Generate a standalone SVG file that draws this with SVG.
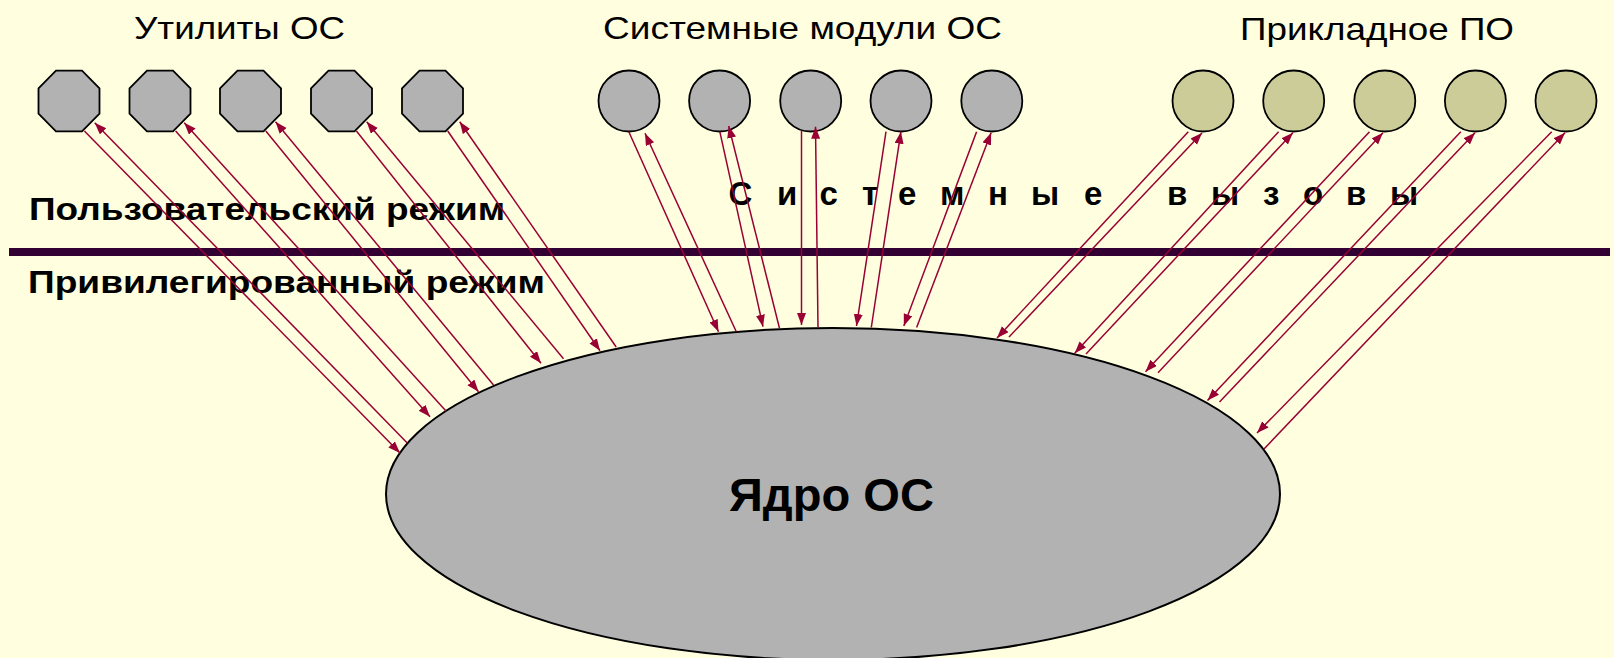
<svg xmlns="http://www.w3.org/2000/svg" width="1614" height="658" viewBox="0 0 1614 658">
<style>
.lbl{font-family:"Liberation Sans",Arial,sans-serif;font-size:32px;fill:#000}
.bld{font-family:"Liberation Sans",Arial,sans-serif;font-size:32px;font-weight:bold;fill:#000}
.oct{fill:#B2B2B2;stroke:#000;stroke-width:1.8}
.sys{fill:#B2B2B2;stroke:#000;stroke-width:1.8}
.app{fill:#CCCC99;stroke:#000;stroke-width:1.8}
.cn line{stroke:#990033;stroke-width:1.5;marker-end:url(#ah)}
</style>
<defs>
<marker id="ah" markerUnits="userSpaceOnUse" markerWidth="13" markerHeight="10" refX="12" refY="4.5" orient="auto">
<path d="M0,0 L12,4.5 L0,9 z" fill="#990033"/>
</marker>
<polygon id="octo" points="-13,-30.3 13,-30.3 30.5,-12.7 30.5,12.7 13,30.3 -13,30.3 -30.5,12.7 -30.5,-12.7"/>
</defs>
<rect width="1614" height="658" fill="#FFFFE0"/>

<line x1="9" y1="252" x2="1610" y2="252" stroke="#330033" stroke-width="8"/>

<g id="labels">
<text class="lbl" x="134" y="38.5" textLength="211" lengthAdjust="spacingAndGlyphs">Утилиты ОС</text>
<text class="lbl" x="603" y="39" textLength="399" lengthAdjust="spacingAndGlyphs">Системные модули ОС</text>
<text class="lbl" x="1240" y="39.5" textLength="274" lengthAdjust="spacingAndGlyphs">Прикладное ПО</text>
<text class="bld" x="29" y="220" textLength="476" lengthAdjust="spacingAndGlyphs">Пользовательский режим</text>
<text class="bld" x="28" y="292.5" textLength="517" lengthAdjust="spacingAndGlyphs">Привилегированный режим</text>
<text class="bld" style="font-size:33px" y="204.5" x="728.5 777 819.5 862 898 940 988 1031 1084 1130 1167 1211 1263 1303 1346 1390">Системные вызовы</text>
</g>

<g id="kernel">
<ellipse cx="833" cy="494" rx="447" ry="166" fill="#B2B2B2" stroke="#000" stroke-width="2"/>
<text class="bld" style="font-size:46px" x="729" y="511" textLength="205" lengthAdjust="spacingAndGlyphs">Ядро ОС</text>
</g>

<g id="utility-1"><use href="#octo" class="oct" x="69" y="101"/></g>
<g id="utility-2"><use href="#octo" class="oct" x="160" y="101"/></g>
<g id="utility-3"><use href="#octo" class="oct" x="250.5" y="101"/></g>
<g id="utility-4"><use href="#octo" class="oct" x="341.5" y="101"/></g>
<g id="utility-5"><use href="#octo" class="oct" x="432.5" y="101"/></g>

<g id="module-1"><circle class="sys" cx="629" cy="101" r="30.5"/></g>
<g id="module-2"><circle class="sys" cx="719.6" cy="101" r="30.5"/></g>
<g id="module-3"><circle class="sys" cx="810.7" cy="101" r="30.5"/></g>
<g id="module-4"><circle class="sys" cx="901" cy="101" r="30.5"/></g>
<g id="module-5"><circle class="sys" cx="991.8" cy="101" r="30.5"/></g>

<g id="app-1"><circle class="app" cx="1203" cy="101" r="30.5"/></g>
<g id="app-2"><circle class="app" cx="1293.7" cy="101" r="30.5"/></g>
<g id="app-3"><circle class="app" cx="1384.8" cy="101" r="30.5"/></g>
<g id="app-4"><circle class="app" cx="1475.4" cy="101" r="30.5"/></g>
<g id="app-5"><circle class="app" cx="1566" cy="101" r="30.5"/></g>

<g id="connectors" class="cn">
<line x1="84.4" y1="131" x2="400" y2="453"/>
<line x1="407" y1="442.7" x2="94.7" y2="122.7"/>
<line x1="175.6" y1="131" x2="430" y2="416.7"/>
<line x1="446" y1="411" x2="184.2" y2="122.7"/>
<line x1="265.8" y1="131" x2="478.5" y2="391.7"/>
<line x1="493.5" y1="385" x2="275.5" y2="121.7"/>
<line x1="356.4" y1="131" x2="541" y2="363.3"/>
<line x1="563.5" y1="358.8" x2="366.7" y2="121.7"/>
<line x1="447.7" y1="131" x2="600" y2="350.7"/>
<line x1="616.2" y1="347" x2="459.7" y2="121.7"/>

<line x1="628.8" y1="131.7" x2="718.5" y2="331.7"/>
<line x1="736.3" y1="331.7" x2="645" y2="133.3"/>
<line x1="719.8" y1="131.7" x2="763" y2="326.7"/>
<line x1="779.5" y1="328.3" x2="728.7" y2="126"/>
<line x1="801.5" y1="130.7" x2="801.5" y2="325"/>
<line x1="818" y1="327" x2="815.5" y2="126.7"/>
<line x1="886" y1="131.7" x2="856.5" y2="326"/>
<line x1="871.3" y1="327.5" x2="900.9" y2="131.7"/>
<line x1="976.6" y1="131.7" x2="903.8" y2="326"/>
<line x1="916.6" y1="327.5" x2="991.1" y2="132.7"/>

<line x1="1188.3" y1="131.7" x2="997" y2="338"/>
<line x1="1009" y1="337" x2="1202" y2="133"/>
<line x1="1278.6" y1="131.7" x2="1074.7" y2="353.3"/>
<line x1="1086" y1="354" x2="1292.9" y2="132.7"/>
<line x1="1369.5" y1="131.7" x2="1145.5" y2="371.7"/>
<line x1="1158" y1="372.7" x2="1383" y2="132.7"/>
<line x1="1460.8" y1="131.7" x2="1207.5" y2="400.5"/>
<line x1="1219.5" y1="402" x2="1475" y2="132.7"/>
<line x1="1551.7" y1="131.7" x2="1257" y2="433"/>
<line x1="1264" y1="449" x2="1565" y2="132.7"/>
</g>
</svg>
